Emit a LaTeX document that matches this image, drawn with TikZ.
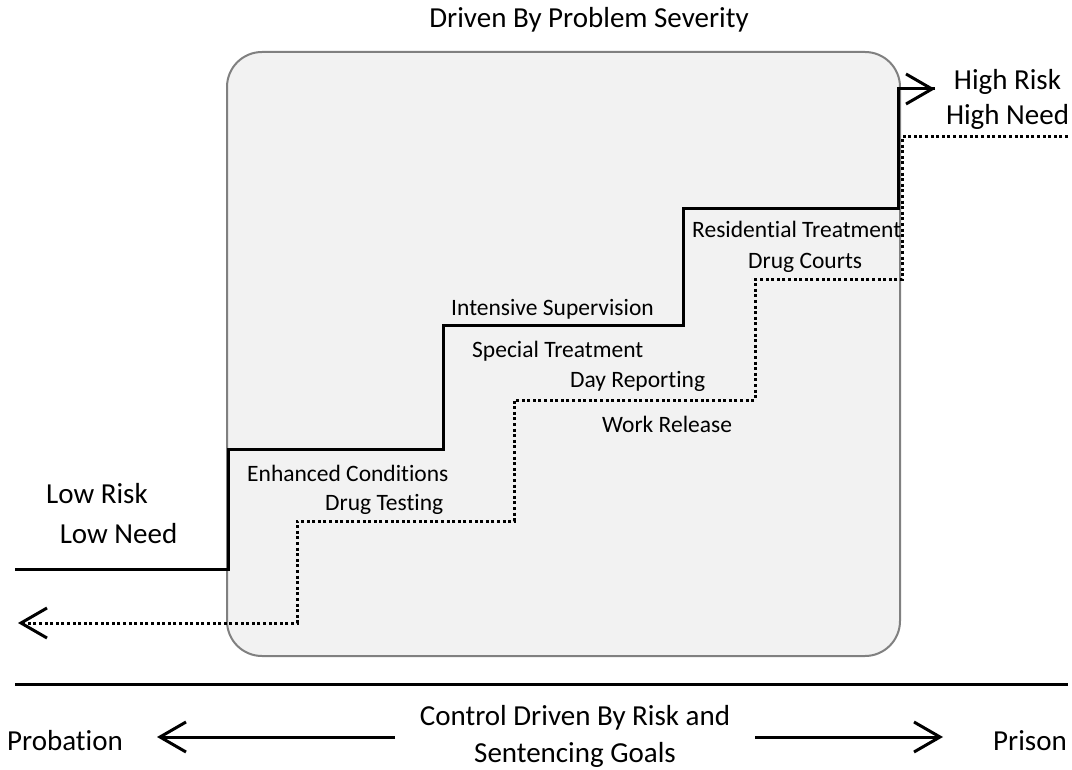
\documentclass[tikz,border=0pt]{standalone}
\usepackage{fontspec}
\setmainfont{Carlito}[Ligatures=NoCommon]
\usetikzlibrary{arrows.meta}
\definecolor{boxfill}{HTML}{F2F2F2}
\definecolor{boxline}{HTML}{808080}
\tikzset{
  outertext/.style={inner sep=0pt, anchor=base, font=\fontsize{29}{35}\selectfont},
  innertext/.style={inner sep=0pt, anchor=base west, font=\fontsize{23.5}{28}\selectfont},
  stair/.style={line width=3pt, line join=miter},
  dotstair/.style={line width=3pt, dash pattern=on 3pt off 2.6pt},
  barb/.style={-{Straight Barb[length=26pt,width=30pt,line width=3pt]}},
  stage/.style={fill=boxfill, draw=boxline, line width=2pt, rounded corners=35pt}
}
\begin{document}
\begin{tikzpicture}[x=1pt,y=-1pt]
\useasboundingbox (0,0) rectangle (1072,770);
% background box
\draw[stage] (227,52) rectangle (900,656);
% title
\node[outertext] (title) at (589,28) {Driven By Problem Severity};
% solid staircase
\coordinate (s0) at (15,569);
\coordinate (s1) at (228,569);
\coordinate (s2) at (228,449);
\coordinate (s3) at (443,449);
\coordinate (s4) at (443,326);
\coordinate (s5) at (683,326);
\coordinate (s6) at (683,209);
\coordinate (s7) at (898,209);
\coordinate (s8) at (898,89);
\coordinate (s9) at (935,89);
\draw[stair] (s0) -- (s1) -- (s2) -- (s3) -- (s4) -- (s5) -- (s6) -- (s7) -- (s8) -- (s9);
\draw[stair,barb] (s8) -- (s9);
% dotted staircase
\coordinate (d0) at (1068,137);
\coordinate (d1) at (902,137);
\coordinate (d2) at (902,280);
\coordinate (d3) at (755,280);
\coordinate (d4) at (755,400);
\coordinate (d5) at (514,400);
\coordinate (d6) at (514,521);
\coordinate (d7) at (297,521);
\coordinate (d8) at (297,623);
\coordinate (d9) at (18,623);
\draw[dotstair,barb] (d0) -- (d1) -- (d2) -- (d3) -- (d4) -- (d5) -- (d6) -- (d7) -- (d8) -- (d9);
% end labels
\node[outertext] (lowrisk) at (97,503) {Low Risk};
\node[outertext] (lowneed) at (118.5,543) {Low Need};
\node[outertext] (highrisk) at (1007.5,90) {High Risk};
\node[outertext] (highneed) at (1007.5,125) {High Need};
% inner labels
\node[innertext] (enh) at (247,481) {Enhanced Conditions};
\node[innertext] (dtest) at (325,510) {Drug Testing};
\node[innertext] (isup) at (451,316) {Intensive Supervision};
\node[innertext] (spec) at (472,357) {Special Treatment};
\node[innertext] (dayr) at (570,387) {Day Reporting};
\node[innertext] (work) at (602,432) {Work Release};
\node[innertext] (resi) at (692,238) {Residential Treatment};
\node[innertext] (dcourt) at (748,269) {Drug Courts};
% bottom
\coordinate (h0) at (15,684);
\coordinate (h1) at (1068,684);
\draw[line width=3pt] (h0) -- (h1);
\node[outertext] (ctrl1) at (575,725) {Control Driven By Risk and};
\node[outertext] (ctrl2) at (575,762) {Sentencing Goals};
\node[outertext, anchor=base west] (prob) at (7,750) {Probation};
\node[outertext, anchor=base west] (prison) at (993,750) {Prison};
\coordinate (la0) at (395,737);
\coordinate (la1) at (157,737);
\coordinate (ra0) at (755,737);
\coordinate (ra1) at (943,737);
\draw[line width=3pt,barb] (la0) -- (la1);
\draw[line width=3pt,barb] (ra0) -- (ra1);
\end{tikzpicture}
\end{document}
